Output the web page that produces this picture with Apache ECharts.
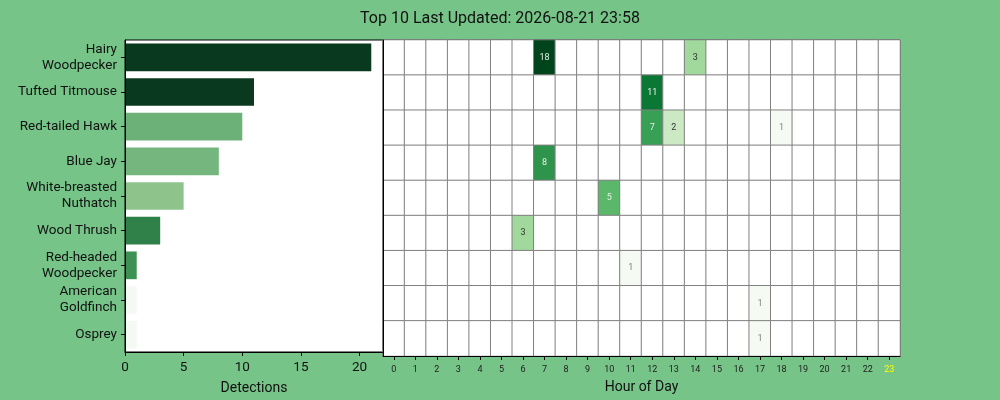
<!DOCTYPE html>
<html>
<head>
<meta charset="utf-8">
<script src="https://cdn.jsdelivr.net/npm/echarts@6/dist/echarts.min.js"></script>
<style>
html,body{margin:0;padding:0;background:#76c487;}
#c{width:1000px;height:400px;}
</style>
</head>
<body>
<div id="c"></div>
<script>
const species = ["Hairy\nWoodpecker","Tufted Titmouse","Red-tailed Hawk","Blue Jay","White-breasted\nNuthatch","Wood Thrush","Red-headed\nWoodpecker","American\nGoldfinch","Osprey"];
const totals = [21, 11, 10, 8, 5, 3, 1, 1, 1];
const hours = ["0","1","2","3","4","5","6","7","8","9","10","11","12","13","14","15","16","17","18","19","20","21","22","23"];
const hairyWoodpecker     = [0,0,0,0,0,0,0,18,0,0,0,0,0,0,3,0,0,0,0,0,0,0,0,0];
const tuftedTitmouse      = [0,0,0,0,0,0,0,0,0,0,0,0,11,0,0,0,0,0,0,0,0,0,0,0];
const redTailedHawk       = [0,0,0,0,0,0,0,0,0,0,0,0,7,2,0,0,0,0,1,0,0,0,0,0];
const blueJay             = [0,0,0,0,0,0,0,8,0,0,0,0,0,0,0,0,0,0,0,0,0,0,0,0];
const whiteBreastedNuthatch = [0,0,0,0,0,0,0,0,0,0,5,0,0,0,0,0,0,0,0,0,0,0,0,0];
const woodThrush          = [0,0,0,0,0,0,3,0,0,0,0,0,0,0,0,0,0,0,0,0,0,0,0,0];
const redHeadedWoodpecker = [0,0,0,0,0,0,0,0,0,0,0,1,0,0,0,0,0,0,0,0,0,0,0,0];
const americanGoldfinch   = [0,0,0,0,0,0,0,0,0,0,0,0,0,0,0,0,0,1,0,0,0,0,0,0];
const osprey              = [0,0,0,0,0,0,0,0,0,0,0,0,0,0,0,0,0,1,0,0,0,0,0,0];
const hourly = [hairyWoodpecker, tuftedTitmouse, redTailedHawk, blueJay, whiteBreastedNuthatch, woodThrush, redHeadedWoodpecker, americanGoldfinch, osprey];

const barColors = ["#093a1f","#093a1f","#6cb278","#74b67e","#8ec48c","#2f8049","#3d9253","#f4faf3","#f4faf3"];
const cellPalette = {0:"#ffffff",1:"#f5fbf3",2:"#cbeac4",3:"#a0d99b",5:"#5bb86a",7:"#37a055",8:"#2e934b",11:"#0b7734",18:"#00441b"};
function cellColor(v){ return cellPalette[v] || "#ffffff"; }
function textColor(v){ if (v >= 5) return "#e6efe6"; if (v === 1) return "#808080"; return "#333333"; }

const heatData = [];
hourly.forEach((row, r) => {
  row.forEach((v, h) => {
    heatData.push({
      value: [h, r, v],
      itemStyle: { color: cellColor(v) },
      label: { show: v > 0, color: textColor(v) }
    });
  });
});

const chart = echarts.init(document.getElementById('c'));
const font = 'Roboto';
chart.setOption({
  backgroundColor: '#76c487',
  animation: false,
  textStyle: { fontFamily: font },
  title: {
    text: 'Top 10 Last Updated: 2026-08-21 23:58',
    left: 'center', top: 6,
    textStyle: { fontFamily: font, fontSize: 16, fontWeight: 'normal', color: '#111' }
  },
  grid: [
    { left: 125, right: 617, top: 40, bottom: 44, show: true, backgroundColor: '#fff', borderColor: '#000', borderWidth: 1 },
    { left: 383, right: 100, top: 40, bottom: 44, show: true, backgroundColor: '#fff', borderColor: '#000', borderWidth: 1 }
  ],
  xAxis: [
    {
      gridIndex: 0, type: 'value', min: 0, max: 22, z: 10,
      axisLine: { show: true, lineStyle: { color: '#000', width: 1 } },
      axisTick: { show: true, length: 4, lineStyle: { color: '#000' }, customValues: [0,5,10,15,20] },
      axisLabel: { fontFamily: font, fontSize: 13.5, color: '#111', margin: 9, customValues: [0,5,10,15,20] },
      splitLine: { show: false },
      name: 'Detections', nameLocation: 'middle', nameGap: 29,
      nameTextStyle: { fontFamily: font, fontSize: 14, color: '#111' }
    },
    {
      gridIndex: 1, type: 'category', data: hours, z: 10,
      axisLine: { show: true, lineStyle: { color: '#000', width: 1 } },
      axisTick: { show: true, alignWithLabel: true, length: 4, lineStyle: { color: '#000' } },
      axisLabel: { fontFamily: font, fontSize: 9, margin: 9, interval: 0,
        color: (v) => v === '23' ? '#ffff00' : '#222' },
      splitLine: { show: false },
      name: 'Hour of Day', nameLocation: 'middle', nameGap: 24,
      nameTextStyle: { fontFamily: font, fontSize: 14, color: '#111' }
    }
  ],
  yAxis: [
    {
      gridIndex: 0, type: 'category', data: species, inverse: true, z: 10,
      axisLine: { show: true, lineStyle: { color: '#000', width: 1 } },
      axisTick: { show: true, alignWithLabel: true, length: 4, lineStyle: { color: '#000' } },
      axisLabel: { fontFamily: font, fontSize: 13.5, color: '#111', margin: 8, lineHeight: 16, interval: 0 },
      splitLine: { show: false }
    },
    {
      gridIndex: 1, type: 'category', data: species, inverse: true, z: 10,
      axisLine: { show: true, lineStyle: { color: '#000', width: 1 } },
      axisTick: { show: false },
      axisLabel: { show: false },
      splitLine: { show: false }
    }
  ],
  series: [
    {
      type: 'bar', xAxisIndex: 0, yAxisIndex: 0,
      data: totals.map((v, i) => ({ value: v, itemStyle: { color: barColors[i] } })),
      barCategoryGap: '20%'
    },
    {
      type: 'heatmap', xAxisIndex: 1, yAxisIndex: 1,
      data: heatData,
      itemStyle: { borderColor: '#808080', borderWidth: 1 },
      label: { show: true, fontFamily: font, fontSize: 9,
        formatter: (p) => p.value[2] > 0 ? String(p.value[2]) : '' },
      emphasis: { disabled: true }
    }
  ]
});
</script>
</body>
</html>
